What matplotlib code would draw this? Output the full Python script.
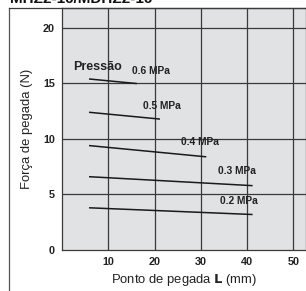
import matplotlib
matplotlib.use("Agg")
from matplotlib import pyplot as plt
from matplotlib.lines import Line2D

plt.rcParams["font.family"] = ["Liberation Sans", "DejaVu Sans"]

PRESSURES = ["0.6 MPa", "0.5 MPa", "0.4 MPa", "0.3 MPa", "0.2 MPa"]
X_START = [6, 6, 6, 6, 6]
X_END = [16, 21, 31, 41, 41]
F_START = [15.4, 12.4, 9.4, 6.6, 3.8]
F_END = [15.0, 11.8, 8.4, 5.8, 3.2]
# label anchor (left x, y) in data units
LABEL_X = [15.2, 17.4, 25.6, 33.6, 34.2]
LABEL_Y = [15.7, 12.5, 9.25, 6.65, 3.95]

X_TICKS = [10, 20, 30, 40, 50]
Y_TICKS = [0, 5, 10, 15, 20]

fig = plt.figure(figsize=(3.06, 2.91), dpi=100)
ax = fig.add_axes([62 / 306, 41 / 291, 244 / 306, 242 / 291])
ax.set_facecolor("#e1e2e4")
ax.set_xlim(0, 52.7)
ax.set_ylim(0, 21.8)

for x in X_TICKS:
    ax.axvline(x, color="#3a3a3a", lw=0.9, zorder=1)
for y in Y_TICKS[1:]:
    ax.axhline(y, color="#3a3a3a", lw=0.9, zorder=1)

for name, x0, x1, f0, f1, lx, ly in zip(PRESSURES, X_START, X_END, F_START, F_END, LABEL_X, LABEL_Y):
    ax.plot([x0, x1], [f0, f1], color="#1a1a1a", lw=1.1, zorder=3)
    ax.text(lx, ly, name, fontsize=7.4, fontweight="bold", color="#222222",
            ha="left", va="bottom", zorder=4)

ax.text(2.3, 15.95, "Pressão", fontsize=9, fontweight="bold", color="#222222",
        ha="left", va="bottom")

ax.set_xticks(X_TICKS)
ax.set_yticks(Y_TICKS)
ax.tick_params(length=0, labelsize=7.8, pad=5, colors="#222222")
for lab in ax.get_xticklabels() + ax.get_yticklabels():
    lab.set_fontweight("bold")
for s in ax.spines.values():
    s.set_color("#3a3a3a")
    s.set_linewidth(0.9)

ax.set_xlabel(r"Ponto de pegada $\mathbf{L}$ (mm)", fontsize=9.4, color="#222222", labelpad=4)
ax.set_ylabel("Força de pegada (N)", fontsize=9.4, color="#222222", labelpad=7)

# outer frame
fig.add_artist(Line2D([9 / 306, 9 / 306], [0, 283 / 291], color="#555555", lw=0.9))
fig.add_artist(Line2D([9 / 306, 1], [283 / 291, 283 / 291], color="#3a3a3a", lw=0.9))

# heading, cut off by the top edge as in the source
fig.text(10 / 306, 1 - 3 / 291, "MHZ2-16/MDHZ2-16", fontsize=11, fontweight="bold",
         ha="left", va="baseline", color="#111111")

fig.savefig("out.png", dpi=100)
